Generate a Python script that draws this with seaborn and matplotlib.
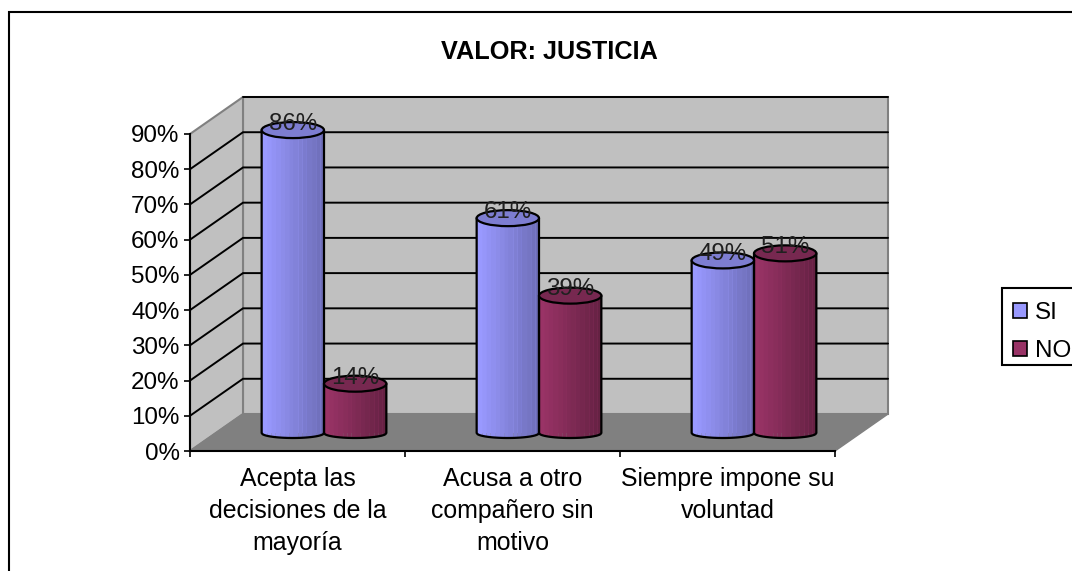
import matplotlib
matplotlib.use("Agg")
import matplotlib.pyplot as plt
import numpy as np
import pandas as pd
import seaborn as sns
from matplotlib.colors import to_rgb
from matplotlib.patches import Ellipse, Polygon, Rectangle

# datos
categorias = ["Acepta las\ndecisiones de la\nmayoría",
              "Acusa a otro\ncompañero sin\nmotivo",
              "Siempre impone su\nvoluntad"]
valores_si = [86, 61, 49]
valores_no = [14, 39, 51]
series = ["SI", "NO"]
ticks_y = list(range(0, 100, 10))

df = pd.DataFrame({
    "categoria": categorias * 2,
    "serie": ["SI"] * 3 + ["NO"] * 3,
    "valor": valores_si + valores_no,
})

W, H = 1072, 571
FUENTE = 17.4
sns.set_theme(style="white")
plt.rcParams["font.family"] = ["Liberation Sans", "DejaVu Sans"]

fig = plt.figure(figsize=(W / 100, H / 100), dpi=100, facecolor="white")


def caja(izq, arriba, der, abajo):
    return [izq / W, 1 - abajo / H, (der - izq) / W, (abajo - arriba) / H]


# plano frontal en pixeles y profundidad del grafico 3D
IZQ, DER, BASE, TOPE = 190, 835, 451, 134
ax = fig.add_axes(caja(IZQ, TOPE, DER, BASE))
ax.set_xlim(-0.5, 2.5)
ax.set_ylim(0, 90)
ux = (DER - IZQ) / 3
uy = (BASE - TOPE) / 90
dx, dy = 53 / ux, 37 / uy

# paredes y piso
ax.patch.set_alpha(0)
x0, x1 = -0.5, 2.5
ax.add_patch(Polygon([(x0 + dx, dy), (x1 + dx, dy), (x1 + dx, 90 + dy), (x0 + dx, 90 + dy)],
                     fc="#C0C0C0", ec="#808080", lw=1.5, clip_on=False, zorder=1))
ax.add_patch(Polygon([(x0, 0), (x0 + dx, dy), (x0 + dx, 90 + dy), (x0, 90)],
                     fc="#C0C0C0", ec="#808080", lw=1.5, clip_on=False, zorder=1))
ax.add_patch(Polygon([(x0, 0), (x1, 0), (x1 + dx, dy), (x0 + dx, dy)],
                     fc="#808080", ec="#808080", lw=1, clip_on=False, zorder=1))
for t in ticks_y[1:-1]:
    ax.plot([x0, x0 + dx, x1 + dx], [t, t + dy, t + dy], color="black", lw=1.4,
            clip_on=False, zorder=2, solid_joinstyle="miter")
ax.plot([x0 + dx, x1 + dx], [90 + dy, 90 + dy], color="black", lw=1.4, clip_on=False, zorder=2)

ax.set_yticks(ticks_y)
ax.set_yticklabels([f"{t}%" for t in ticks_y], fontsize=FUENTE, color="black")
ax.set_xticks([0, 1, 2])
ax.set_xticklabels(categorias, fontsize=17.9, color="black", linespacing=1.42)
ax.set_xticks([-0.5, 0.5, 1.5, 2.5], minor=True)
ax.tick_params(axis="x", which="major", length=0, pad=11.5)
ax.tick_params(axis="x", which="minor", length=4.5, width=1.2, color="black", bottom=True)
ax.tick_params(axis="y", length=4.5, width=1.2, color="black", left=True, pad=3)
sns.despine(ax=ax, top=True, right=True)
for s in ("left", "bottom"):
    ax.spines[s].set_color("black")
    ax.spines[s].set_linewidth(1.5)
    ax.spines[s].set_zorder(3)

# cilindros en un eje desplazado a media profundidad
ax2 = fig.add_axes(caja(IZQ + 26.5, TOPE - 18, DER + 26.5, BASE - 18))
ax2.patch.set_alpha(0)
colores = {"SI": "#9999FF", "NO": "#993366"}
sns.barplot(data=df, x="categoria", y="valor", hue="serie", hue_order=series,
            palette=colores, width=0.58, saturation=1, errorbar=None, ax=ax2)
ax2.set_xlim(-0.5, 2.5)
ax2.set_ylim(0, 90)
handles, etiquetas = ax2.get_legend_handles_labels()
ax2.get_legend().remove()

alto_tapa = 8 / uy
alto_base = 5 / uy
N_TIRAS = 14
for serie, cont in zip(series, ax2.containers):
    base = np.array(to_rgb(colores[serie]))
    oscuro = 0.72 if serie == "SI" else 0.66
    for p in cont.patches:
        xa, ancho, alto = p.get_x(), p.get_width(), p.get_height()
        xc = xa + ancho / 2
        xs = np.linspace(xa, xa + ancho, 61)
        fondo = -alto_base * np.sqrt(np.clip(1 - ((xs - xc) / (ancho / 2)) ** 2, 0, 1))
        silueta = Polygon(np.r_[np.c_[xs, fondo], [(xa + ancho, alto), (xa, alto)]],
                          transform=ax2.transData)
        p.set_clip_path(silueta)
        p.set_linewidth(0)
        # franjas de sombreado del cilindro
        bordes = np.linspace(xa, xa + ancho, N_TIRAS + 1)
        for i in range(N_TIRAS):
            f = np.linspace(1.0, oscuro, N_TIRAS)[i]
            m = (xs >= bordes[i] - 1e-9) & (xs <= bordes[i + 1] + ancho / 60)
            ax2.fill_between(xs[m], fondo[m], alto, color=base * f, lw=0, clip_on=False,
                             zorder=p.get_zorder() + 0.1)
        ax2.plot(np.r_[xa, xs, xa + ancho], np.r_[alto, fondo, alto], color="black", lw=1.6,
                 clip_on=False, zorder=p.get_zorder() + 0.2)
        ax2.add_patch(Ellipse((xc, alto), ancho, 2 * alto_tapa,
                              fc=base * (0.82 if serie == "SI" else 0.78),
                              ec="black", lw=1.6, clip_on=False, zorder=p.get_zorder() + 0.3))
for cont in ax2.containers:
    etq = ax2.bar_label(cont, fmt="%g%%", padding=-3.5, fontsize=17.4, color="#202020", zorder=10)
    for e in etq:
        e.set_clip_on(False)
ax2.axis("off")

fig.text(549.5 / W, 1 - 52 / H, "VALOR: JUSTICIA", ha="center", va="center",
         fontsize=18.2, fontweight="bold", color="black")

# leyenda y marco exterior
ax2.add_patch(Rectangle((1002 / W, 1 - 365 / H), 0.2, 77 / H, transform=fig.transFigure,
                        fc="white", ec="black", lw=1.5, clip_on=False, zorder=15))
leg = ax2.legend(handles, etiquetas, loc="upper left", bbox_to_anchor=(1002 / W, 1 - 291 / H),
                 bbox_transform=fig.transFigure, fontsize=FUENTE, frameon=False,
                 borderaxespad=0, handlelength=0.6, handleheight=0.6, labelcolor="black",
                 handletextpad=0.33, labelspacing=0.66, borderpad=0.45)
leg.set_zorder(20)
for h in leg.get_patches():
    h.set_edgecolor("black")
    h.set_linewidth(1.2)

fig.add_artist(Rectangle((9 / W, -0.1), 1.2, 1 - 12 / H + 0.1, transform=fig.transFigure,
                         fc="none", ec="black", lw=1.5))

fig.savefig("out.png", dpi=100)
